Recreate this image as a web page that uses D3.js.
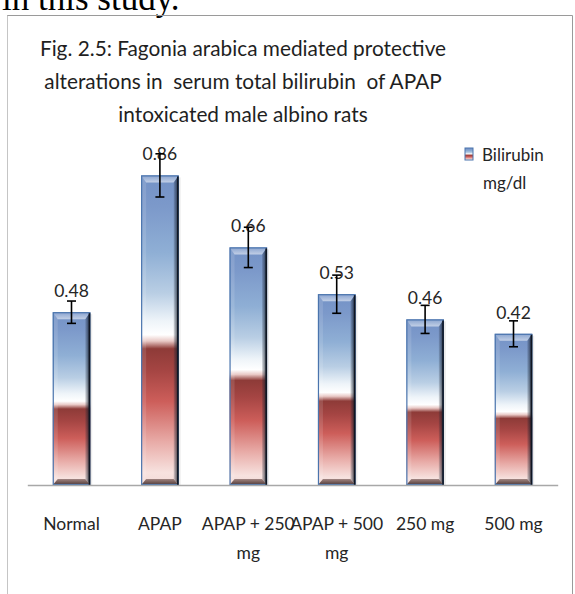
<!DOCTYPE html>
<html>
<head>
<meta charset="utf-8">
<script src="https://cdn.jsdelivr.net/npm/d3@7"></script>
<style>
  html, body { margin: 0; padding: 0; background: #fff; }
  svg { display: block; }
  text { font-family: Lato, "Open Sans", sans-serif; fill: #262626; white-space: pre; }
</style>
</head>
<body>
<div id="chart"></div>
<script>
// Serum total bilirubin (mg/dl) per treatment group, mean ± error
const categories = ["Normal", "APAP", "APAP + 250 mg", "APAP + 500 mg", "250 mg", "500 mg"];
const bilirubin  = [0.48, 0.86, 0.66, 0.53, 0.46, 0.42];
const errors     = [0.031, 0.06, 0.056, 0.053, 0.039, 0.036];
const valueLabels = ["0.48", "0.86", "0.66", "0.53", "0.46", "0.42"];
const titleLines = [
  "Fig. 2.5: Fagonia arabica mediated protective",
  "alterations in  serum total bilirubin  of APAP",
  "intoxicated male albino rats"
];
const legendLines = ["Bilirubin", "mg/dl"];

const W = 575, H = 594;
const svg = d3.select("#chart").append("svg")
  .attr("width", W).attr("height", H);

svg.append("rect").attr("width", W).attr("height", H).attr("fill", "#fff");

// running text of the page above the figure frame
svg.append("text")
  .attr("x", 2).attr("y", 10)
  .style("font-family", "'Liberation Serif', 'Times New Roman', serif")
  .style("font-size", "35px").style("fill", "#000")
  .text("in this study.");

// figure frame
svg.append("line").attr("x1", 7.5).attr("x2", 572.5).attr("y1", 15.5).attr("y2", 15.5)
  .attr("stroke", "#9a9a9a").attr("stroke-width", 1.2);
svg.append("line").attr("x1", 7.5).attr("x2", 7.5).attr("y1", 15.5).attr("y2", H)
  .attr("stroke", "#8a8a8a").attr("stroke-width", 1).attr("stroke-dasharray", "1 1");
svg.append("line").attr("x1", 572.5).attr("x2", 572.5).attr("y1", 15.5).attr("y2", H)
  .attr("stroke", "#9a9a9a").attr("stroke-width", 1);

// gradients
const defs = svg.append("defs");
const body = defs.append("linearGradient").attr("id", "barFill")
  .attr("x1", 0).attr("y1", 0).attr("x2", 0).attr("y2", 1);
[
  [0.00, "#7392c6"], [0.10, "#7c99ca"], [0.25, "#8fafd5"], [0.38, "#b9cee4"],
  [0.47, "#eef4f9"], [0.515, "#ffffff"], [0.535, "#e9c9c6"], [0.56, "#8e3b38"],
  [0.63, "#a54543"], [0.73, "#cd5e5a"], [0.86, "#e8aba7"], [0.96, "#f7e2df"], [1.00, "#f3dbd8"]
].forEach(([o, c]) => body.append("stop").attr("offset", o).attr("stop-color", c));

const rightEdge = defs.append("linearGradient").attr("id", "rightEdge")
  .attr("x1", 0).attr("y1", 0).attr("x2", 1).attr("y2", 0);
rightEdge.append("stop").attr("offset", 0).attr("stop-color", "#1c2433").attr("stop-opacity", 0.15);
rightEdge.append("stop").attr("offset", 1).attr("stop-color", "#0d1420").attr("stop-opacity", 0.85);

const topEdge = defs.append("linearGradient").attr("id", "topEdge")
  .attr("x1", 0).attr("y1", 0).attr("x2", 0).attr("y2", 1);
topEdge.append("stop").attr("offset", 0).attr("stop-color", "#ffffff").attr("stop-opacity", 0.15);
topEdge.append("stop").attr("offset", 1).attr("stop-color", "#ffffff").attr("stop-opacity", 0.55);

const bottomEdge = defs.append("linearGradient").attr("id", "bottomEdge")
  .attr("x1", 0).attr("y1", 0).attr("x2", 0).attr("y2", 1);
bottomEdge.append("stop").attr("offset", 0).attr("stop-color", "#4a2a26").attr("stop-opacity", 0.5);
bottomEdge.append("stop").attr("offset", 1).attr("stop-color", "#3a2420").attr("stop-opacity", 0.9);

// scales
const x = d3.scaleBand().domain(categories)
  .range([27.3, 557.7]).paddingInner(0.576).paddingOuter(0.288);
const y = d3.scaleLinear().domain([0, 1]).range([485, 125]);

// title
const title = svg.append("text").attr("text-anchor", "middle")
  .style("font-size", "20.8px").style("fill", "#1f1f1f");
titleLines.forEach((t, i) => {
  title.append("tspan").attr("x", 243).attr("y", 56 + i * 33).text(t);
});

// bars
const data = categories.map((c, i) => ({ c, v: bilirubin[i], e: errors[i], lab: valueLabels[i] }));
const bw = x.bandwidth();
const bev = 5;

const g = svg.append("g");
data.forEach(d => {
  const x0 = x(d.c), y0 = y(d.v), h = y(0) - y(d.v), w = bw;
  const bar = g.append("g");
  // soft shadow to the right
  bar.append("rect").attr("x", x0 + 2).attr("y", y0 + 2).attr("width", w).attr("height", h - 2)
    .attr("fill", "#000").attr("opacity", 0.08);
  bar.append("rect").attr("x", x0).attr("y", y0).attr("width", w).attr("height", h)
    .attr("fill", "url(#barFill)");
  // bevel facets
  bar.append("polygon").attr("points",
    [[x0, y0], [x0 + w, y0], [x0 + w - bev, y0 + bev + 2], [x0 + bev, y0 + bev + 2]].join(" "))
    .attr("fill", "url(#topEdge)");
  bar.append("polygon").attr("points",
    [[x0, y0], [x0 + bev, y0 + bev + 2], [x0 + bev, y0 + h - bev - 1], [x0, y0 + h]].join(" "))
    .attr("fill", "#ffffff").attr("opacity", 0.12);
  bar.append("polygon").attr("points",
    [[x0 + w, y0], [x0 + w, y0 + h], [x0 + w - bev, y0 + h - bev - 1], [x0 + w - bev, y0 + bev + 2]].join(" "))
    .attr("fill", "url(#rightEdge)");
  bar.append("polygon").attr("points",
    [[x0, y0 + h], [x0 + w, y0 + h], [x0 + w - bev, y0 + h - bev - 1], [x0 + bev, y0 + h - bev - 1]].join(" "))
    .attr("fill", "url(#bottomEdge)");
  // outline
  bar.append("rect").attr("x", x0 + 0.5).attr("y", y0 + 0.5).attr("width", w - 1).attr("height", h - 1)
    .attr("fill", "none").attr("stroke", "#4a74ad").attr("stroke-width", 1.2);
  bar.append("line").attr("x1", x0 + w - 0.8).attr("x2", x0 + w - 0.8).attr("y1", y0 + 1).attr("y2", y0 + h)
    .attr("stroke", "#0f1622").attr("stroke-width", 1.6);
});

// x axis: baseline and category labels
const axis = svg.append("g").attr("transform", `translate(0,${y(0)})`)
  .call(d3.axisBottom(x).tickSize(0).tickSizeOuter(0).tickPadding(0));
axis.select(".domain").attr("stroke", "#a8a8a8").attr("stroke-width", 1.6);
axis.selectAll(".tick text").remove();
axis.selectAll(".tick").each(function(c) {
  const t = d3.select(this).append("text")
    .attr("text-anchor", "middle").style("font-size", "17.5px").style("fill", "#262626");
  let lines = [c];
  if (c.length > 8) {
    const k = c.lastIndexOf(" ");
    lines = [c.slice(0, k), c.slice(k + 1)];
  }
  lines.forEach((ln, i) => t.append("tspan").attr("x", 0).attr("y", 45 + i * 29).text(ln));
});

// value labels
svg.append("g").selectAll("text").data(data).join("text")
  .attr("x", d => x(d.c) + bw / 2)
  .attr("y", d => y(d.v) - 15)
  .attr("text-anchor", "middle")
  .style("font-size", "17.5px").style("fill", "#262626")
  .text(d => d.lab);

// error bars
const eb = svg.append("g").attr("stroke", "#000").attr("stroke-width", 1.6);
data.forEach(d => {
  const cx = x(d.c) + bw / 2;
  eb.append("line").attr("x1", cx).attr("x2", cx).attr("y1", y(d.v + d.e)).attr("y2", y(d.v - d.e));
  eb.append("line").attr("x1", cx - 4.5).attr("x2", cx + 4.5).attr("y1", y(d.v + d.e)).attr("y2", y(d.v + d.e));
  eb.append("line").attr("x1", cx - 4.5).attr("x2", cx + 4.5).attr("y1", y(d.v - d.e)).attr("y2", y(d.v - d.e));
});

// legend
const lg = svg.append("g");
lg.append("rect").attr("x", 465).attr("y", 148).attr("width", 8).attr("height", 12)
  .attr("fill", "url(#barFill)").attr("stroke", "#4a74ad").attr("stroke-width", 1);
lg.append("text").attr("x", 482).attr("y", 161)
  .style("font-size", "17px").text(legendLines[0]);
lg.append("text").attr("x", 483).attr("y", 189)
  .style("font-size", "17px").text(legendLines[1]);
</script>
</body>
</html>
